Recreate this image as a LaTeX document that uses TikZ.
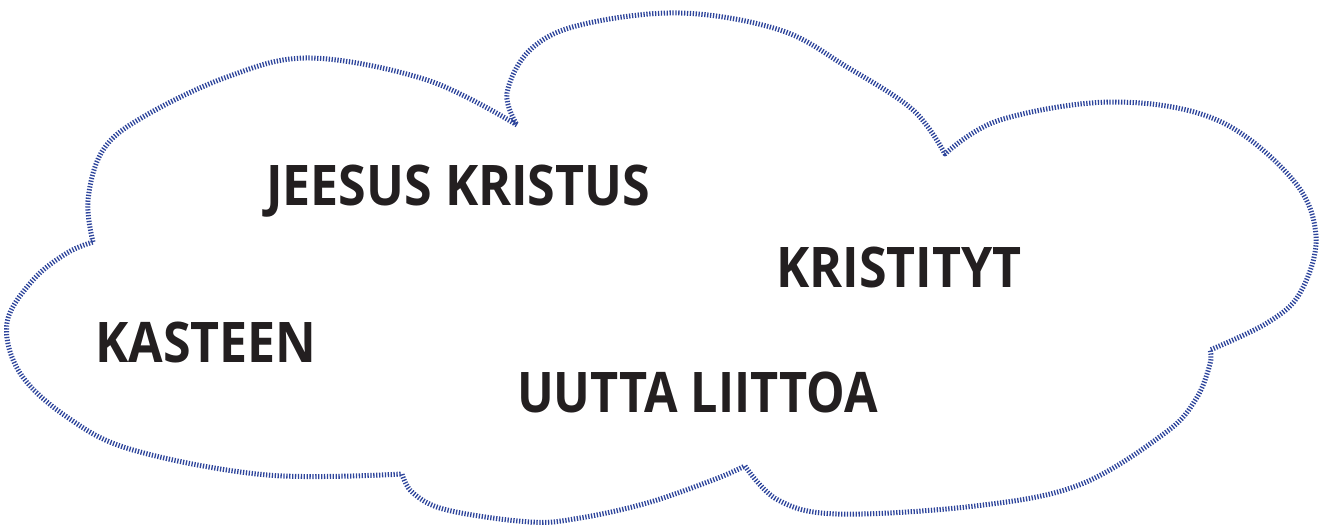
\documentclass[tikz,border=0pt]{standalone}
\usepackage{fontspec}
\usepackage{graphicx}
\setmainfont{Open Sans}
\definecolor{cloudblue}{RGB}{45,68,155}
\definecolor{ink}{RGB}{35,31,32}
\newcommand{\narrowword}[2][0.895]{\scalebox{#1}[1]{#2}}
\tikzset{
  cloudline/.style={draw=cloudblue, line width=5pt, dash pattern=on 1.3pt off 1.6pt, line join=round},
  word/.style={anchor=base west, inner sep=0pt, text=ink, font=\fontsize{56}{60}\selectfont\bfseries}
}
\begin{document}
\begin{tikzpicture}[x=1pt, y=-1pt]
\useasboundingbox (0,0) rectangle (1326,525);
\draw[cloudline]
  plot[smooth, tension=0.6] coordinates {(93,242) (88,200) (103,150) (143,117) (227,77) (310,58) (427,80) (517,125)}
  -- plot[smooth, tension=0.6] coordinates {(517,125) (507,93) (530,50) (580,25) (680,13) (780,30) (847,67) (913,110) (945,154)}
  -- plot[smooth, tension=0.6] coordinates {(945,154) (1000,120) (1113,102) (1217,120) (1293,180) (1316,237) (1300,293) (1267,323) (1210,350)}
  -- plot[smooth, tension=0.6] coordinates {(1210,350) (1210,364) (1196,399) (1165,433) (1079,485) (975,506) (838,514) (778,500) (745,466)}
  -- plot[smooth, tension=0.6] coordinates {(745,466) (713,480) (647,503) (580,518) (530,522) (447,510) (413,493) (402,474)}
  -- plot[smooth, tension=0.6] coordinates {(402,474) (267,475) (133,450) (67,417) (20,373) (7,323) (33,280) (67,253) (93,242)};
\node[word] (jk) at (266,205) {\narrowword{JEESUS KRISTUS}};
\node[word] (kr) at (776,287) {\narrowword{KRISTITYT}};
\node[word] (ka) at (95,362) {\narrowword{KASTEEN}};
\node[word] (ul) at (517,412) {\narrowword[0.868]{UUTTA LIITTOA}};
\end{tikzpicture}
\end{document}
